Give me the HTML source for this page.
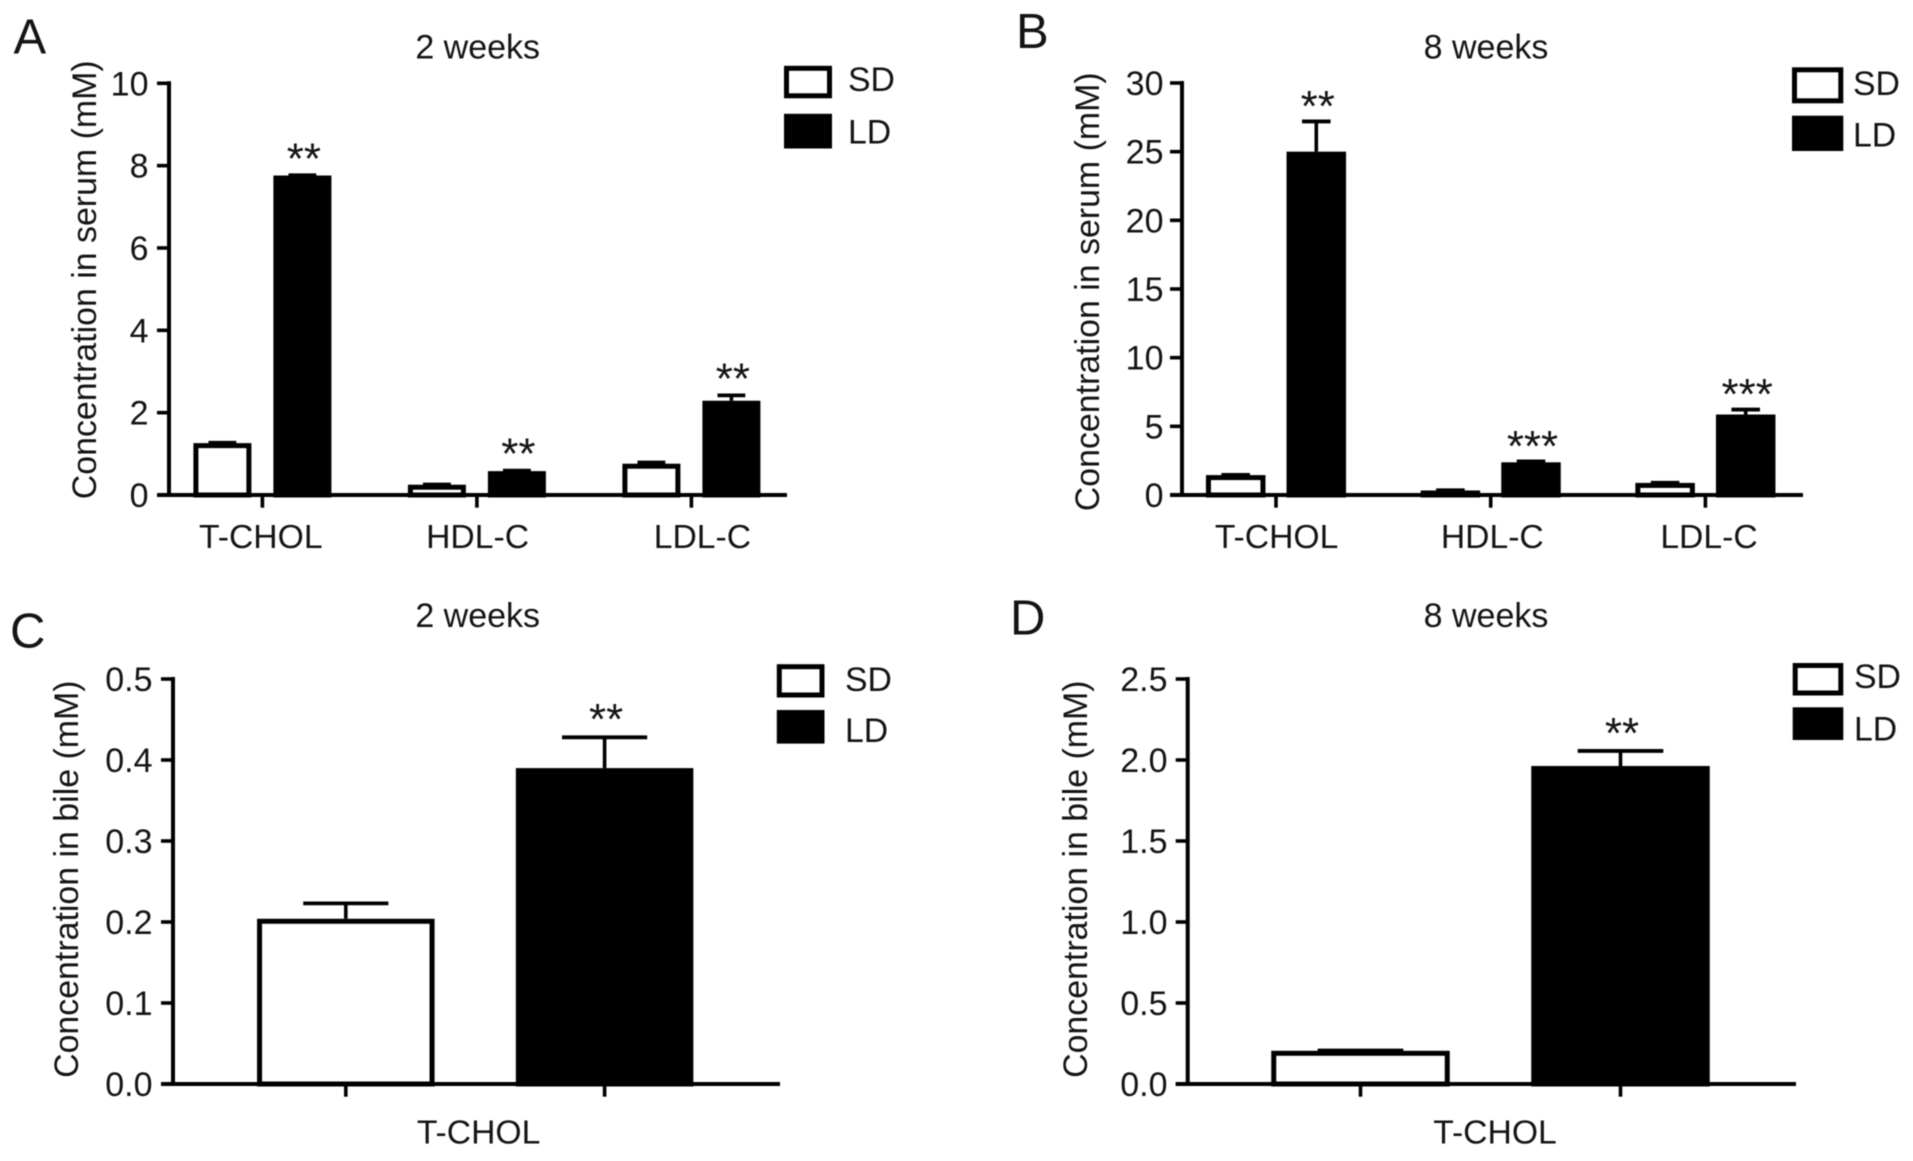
<!DOCTYPE html>
<html lang="en">
<head>
<meta charset="utf-8">
<title>Cholesterol concentration in serum and bile</title>
<style>
html,body{margin:0;padding:0;background:#fff;width:1913px;height:1161px;overflow:hidden}
svg{display:block;filter:blur(.6px)}
text{font-family:"Liberation Sans",Arial,sans-serif;fill:#141414}
</style>
</head>
<body>
<svg id="figure" xmlns="http://www.w3.org/2000/svg" width="1913" height="1161" viewBox="0 0 1913 1161"></svg>
<script>
// Panel A data
const panelACategories = ['T-CHOL', 'HDL-C', 'LDL-C'];
const panelASdValues = [1.26, 0.25, 0.76];
const panelASdErrors = [0.01, 0.005, 0.03];
const panelALdValues = [7.76, 0.58, 2.29];
const panelALdErrors = [0.005, 0.01, 0.13];
const panelASignificance = ['**', '**', '**'];
const panelATicks = [0, 2, 4, 6, 8, 10];
const panelATickLabels = ['0', '2', '4', '6', '8', '10'];

// Panel B data
const panelBCategories = ['T-CHOL', 'HDL-C', 'LDL-C'];
const panelBSdValues = [1.45, 0.33, 0.88];
const panelBSdErrors = [0.01, 0.01, 0.01];
const panelBLdValues = [25, 2.38, 5.86];
const panelBLdErrors = [2.2, 0.07, 0.36];
const panelBSignificance = ['**', '***', '***'];
const panelBTicks = [0, 5, 10, 15, 20, 25, 30];
const panelBTickLabels = ['0', '5', '10', '15', '20', '25', '30'];

// Panel C data
const panelCCategories = ['T-CHOL'];
const panelCSdValues = [0.204];
const panelCSdErrors = [0.019];
const panelCLdValues = [0.39];
const panelCLdErrors = [0.038];
const panelCSignificance = ['**'];
const panelCTicks = [0, 0.1, 0.2, 0.3, 0.4, 0.5];
const panelCTickLabels = ['0.0', '0.1', '0.2', '0.3', '0.4', '0.5'];

// Panel D data
const panelDCategories = ['T-CHOL'];
const panelDSdValues = [0.205];
const panelDSdErrors = [0.002];
const panelDLdValues = [1.963];
const panelDLdErrors = [0.093];
const panelDSignificance = ['**'];
const panelDTicks = [0, 0.5, 1, 1.5, 2, 2.5];
const panelDTickLabels = ['0.0', '0.5', '1.0', '1.5', '2.0', '2.5'];

const SVG_NS = 'http://www.w3.org/2000/svg';
const root = document.getElementById('figure');

function make(tag, attrs, parent) {
  const node = document.createElementNS(SVG_NS, tag);
  Object.keys(attrs).forEach(function (k) { node.setAttribute(k, attrs[k]); });
  parent.appendChild(node);
  return node;
}

function drawPanel(p) {
  const g = make('g', {}, root);
  
  

  const yScale = function (v) { return p.y0 - (v / p.yMax) * (p.y0 - p.yTop); };
  const xCenter = function (i) { return p.first + p.step * i; };

  const letter = make('text', {x: p.letterX, y: p.letterY, 'font-size': 49}, g);
  letter.textContent = p.id.toUpperCase();
  
  

  const title = make('text', {x: p.titleX, y: p.titleY, 'font-size': 34, 'text-anchor': 'middle'}, g);
  title.textContent = p.title;
  
  

  const yTitle = make('text', {
    x: 0, y: 0, 'font-size': 33.9, 'text-anchor': 'middle',
    transform: 'translate(' + p.yTitleX + ',' + p.yTitleMid + ') rotate(-90)'
  }, g);
  yTitle.textContent = p.yTitle;
  
  

  // bars are drawn before the axes so that the baseline sits on top
  p.categories.forEach(function (cat, i) {
    const c = xCenter(i);
    [[p.sd, p.sdErr, -1, 'sd'], [p.ld, p.ldErr, 1, 'ld']].forEach(function (s) {
      const cx = c + s[2] * p.offset;
      const top = yScale(s[0][i]);
      const errTop = yScale(s[0][i] + s[1][i]);
      const capW = p.barW * 0.48;

      const stem = make('line', {x1: cx, x2: cx, y1: top, y2: errTop, stroke: '#000', 'stroke-width': 3.6}, g);
      
      

      const cap = make('line', {x1: cx - capW / 2, x2: cx + capW / 2, y1: errTop, y2: errTop, stroke: '#000', 'stroke-width': 3.8}, g);
      
      

      const bar = make('rect', {
        x: cx - p.barW / 2 + 2.5, y: top + 2.5,
        width: p.barW - 5, height: Math.max(p.y0 - top - 2.5, 0),
        fill: s[2] < 0 ? '#fff' : '#000', stroke: '#000', 'stroke-width': 5
      }, g);
      
      
    });

    const star = make('text', {
      x: c + p.offset + 1.5, y: yScale(p.ld[i] + p.ldErr[i]) - p.starGap + 17,
      'font-size': 44, 'text-anchor': 'middle'
    }, g);
    star.textContent = p.stars[i];
    
    

    const label = make('text', {
      x: c + p.labelDx[i], y: p.labelY, 'font-size': 33.7, 'text-anchor': 'middle'
    }, g);
    label.textContent = cat;
    
    

    const tickXs = p.tickAtBars ? [c - p.offset, c + p.offset] : [c];
    tickXs.forEach(function (tx) {
      const xt = make('line', {x1: tx, x2: tx, y1: p.y0, y2: p.y0 + 12.7, stroke: '#000', 'stroke-width': 3.6}, g);
      
      
    });
  });

  const yAxis = make('line', {x1: p.axisX, x2: p.axisX, y1: p.yTop - 2, y2: p.y0 + 2, stroke: '#000', 'stroke-width': 4}, g);
  
  

  const xAxis = make('line', {x1: p.axisX - 12, x2: p.axisEnd, y1: p.y0, y2: p.y0, stroke: '#000', 'stroke-width': 4}, g);
  
  

  p.ticks.forEach(function (t, i) {
    const ty = yScale(t);
    const tick = make('line', {x1: p.axisX - 12, x2: p.axisX, y1: ty, y2: ty, stroke: '#000', 'stroke-width': 3.6}, g);
    
    

    const lab = make('text', {x: p.tickLabelX, y: ty + 12, 'font-size': 34, 'text-anchor': 'end'}, g);
    lab.textContent = p.tickLabels[i];
    
    
  });

  const sdKey = make('rect', {
    x: p.legX + 2.5, y: p.sdKeyY + 2.5, width: p.legW - 5, height: p.sdKeyH - 5,
    fill: '#fff', stroke: '#000', 'stroke-width': 5
  }, g);
  
  

  const ldKey = make('rect', {x: p.legX, y: p.ldKeyY, width: p.legW, height: p.ldKeyH, fill: '#000'}, g);
  
  

  const sdText = make('text', {x: p.legTextX, y: p.sdTextY, 'font-size': 33.8}, g);
  sdText.textContent = 'SD';
  
  

  const ldText = make('text', {x: p.legTextX, y: p.ldTextY, 'font-size': 33.8}, g);
  ldText.textContent = 'LD';
  
  
}

drawPanel({
  id: 'a', title: '2 weeks', yTitle: 'Concentration in serum (mM)',
  categories: panelACategories, sd: panelASdValues, sdErr: panelASdErrors,
  ld: panelALdValues, ldErr: panelALdErrors, stars: panelASignificance,
  ticks: panelATicks, tickLabels: panelATickLabels, yMax: 10,
  y0: 495, yTop: 83.3, axisX: 169, axisEnd: 787, tickLabelX: 148.5,
  first: 262.4, step: 214.5, offset: 40, barW: 58, labelDx: [-1.6, 0.7, 11], labelY: 548,
  starGap: 19, tickAtBars: false,
  letterX: 13.5, letterY: 53.6, titleX: 477.7, titleY: 58.4, yTitleX: 96, yTitleMid: 279.8,
  legX: 784, legW: 48, sdKeyY: 65.8, sdKeyH: 32.5, ldKeyY: 113.8, ldKeyH: 34.7,
  legTextX: 848, sdTextY: 91.2, ldTextY: 143.3
});
drawPanel({
  id: 'b', title: '8 weeks', yTitle: 'Concentration in serum (mM)',
  categories: panelBCategories, sd: panelBSdValues, sdErr: panelBSdErrors,
  ld: panelBLdValues, ldErr: panelBLdErrors, stars: panelBSignificance,
  ticks: panelBTicks, tickLabels: panelBTickLabels, yMax: 30,
  y0: 495, yTop: 83, axisX: 1182, axisEnd: 1803, tickLabelX: 1163.5,
  first: 1276, step: 214.7, offset: 40.3, barW: 59.5, labelDx: [0.6, 1.6, 3.6], labelY: 548,
  starGap: 17.5, tickAtBars: false,
  letterX: 1016, letterY: 48, titleX: 1486, titleY: 58.4, yTitleX: 1099, yTitleMid: 291.8,
  legX: 1792, legW: 51.3, sdKeyY: 67.3, sdKeyH: 36, ldKeyY: 115.7, ldKeyH: 35.3,
  legTextX: 1853, sdTextY: 95, ldTextY: 146.7
});
drawPanel({
  id: 'c', title: '2 weeks', yTitle: 'Concentration in bile (mM)',
  categories: panelCCategories, sd: panelCSdValues, sdErr: panelCSdErrors,
  ld: panelCLdValues, ldErr: panelCLdErrors, stars: panelCSignificance,
  ticks: panelCTicks, tickLabels: panelCTickLabels, yMax: 0.5,
  y0: 1084, yTop: 679, axisX: 173, axisEnd: 780, tickLabelX: 152.5,
  first: 475.2, step: 0, offset: 129.4, barW: 177.5, labelDx: [3.4], labelY: 1143.5,
  starGap: 20.5, tickAtBars: true,
  letterX: 10, letterY: 647.5, titleX: 477.7, titleY: 627, yTitleX: 78, yTitleMid: 879.2,
  legX: 776.8, legW: 47.7, sdKeyY: 664.2, sdKeyH: 33.3, ldKeyY: 710, ldKeyH: 33.6,
  legTextX: 845, sdTextY: 690.8, ldTextY: 741.8
});
drawPanel({
  id: 'd', title: '8 weeks', yTitle: 'Concentration in bile (mM)',
  categories: panelDCategories, sd: panelDSdValues, sdErr: panelDSdErrors,
  ld: panelDLdValues, ldErr: panelDLdErrors, stars: panelDSignificance,
  ticks: panelDTicks, tickLabels: panelDTickLabels, yMax: 2.5,
  y0: 1084, yTop: 679, axisX: 1187.7, axisEnd: 1796, tickLabelX: 1167.5,
  first: 1490.5, step: 0, offset: 130, barW: 178.5, labelDx: [4.5], labelY: 1143.5,
  starGap: 20, tickAtBars: true,
  letterX: 1010, letterY: 634.7, titleX: 1486, titleY: 627, yTitleX: 1087, yTitleMid: 879.2,
  legX: 1792.7, legW: 50.6, sdKeyY: 663, sdKeyH: 32.5, ldKeyY: 707.3, ldKeyH: 32.7,
  legTextX: 1854, sdTextY: 688.2, ldTextY: 740.7
});
</script>
</body>
</html>
